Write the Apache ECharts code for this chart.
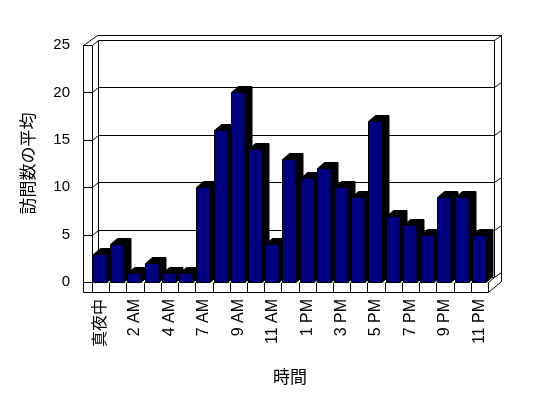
<!DOCTYPE html>
<html>
<head>
<meta charset="utf-8">
<script src="https://cdn.jsdelivr.net/npm/echarts@6/dist/echarts.min.js"></script>
<style>
  html, body { margin: 0; padding: 0; background: #fff; }
  #chart { width: 548px; height: 398px; }
</style>
</head>
<body>
<div id="chart"></div>
<script>
// hours (5 AM has no data in the source)
const hours = ['真夜中', '1 AM', '2 AM', '3 AM', '4 AM', '6 AM', '7 AM', '8 AM', '9 AM', '10 AM', '11 AM', '正午',
  '1 PM', '2 PM', '3 PM', '4 PM', '5 PM', '6 PM', '7 PM', '8 PM', '9 PM', '10 PM', '11 PM'];
const visits = [3, 4, 1, 2, 1, 1, 10, 16, 20, 14, 4, 13, 11, 12, 10, 9, 17, 7, 6, 5, 9, 9, 5];
const yTicks = [0, 5, 10, 15, 20, 25];

const FONT = "'Liberation Sans', 'Noto Sans CJK JP', sans-serif";
const WALL = [6, -5];   // depth of the walls
const BAR = [7, -6];    // depth of a bar
const SIDE = 9;         // side wall thickness
const FLOOR = 10;       // floor thickness

const px = v => Math.round(v) + 0.5;
function line(x1, y1, x2, y2) {
  return {
    type: 'line',
    shape: { x1: px(x1), y1: px(y1), x2: px(x2), y2: px(y2) },
    style: { stroke: '#000', lineWidth: 1 }
  };
}

function renderFrame(params, api) {
  const bw = api.size([1, 0])[0];
  const x0 = api.coord([0, 0])[0] - bw / 2;
  const x1 = api.coord([hours.length - 1, 0])[0] + bw / 2;
  const y = v => api.coord([0, v])[1];
  const top = y(yTicks[yTicks.length - 1]);
  const y0 = y(0);
  const kids = [];
  // back wall + side wall grid
  yTicks.forEach(v => {
    const yy = y(v);
    kids.push(line(x0 + WALL[0], yy + WALL[1], x1 + WALL[0], yy + WALL[1]));
    kids.push(line(x0 - SIDE, yy, x0, yy));
    kids.push(line(x0, yy, x0 + WALL[0], yy + WALL[1]));
    kids.push(line(x1 + WALL[0], yy + WALL[1], x1 + WALL[0] + 7, yy + WALL[1] * 2));
  });
  // verticals
  kids.push(line(x0 - SIDE, top, x0 - SIDE, y0 + FLOOR));
  kids.push(line(x0, top, x0, y0));
  kids.push(line(x0 + WALL[0], top + WALL[1], x0 + WALL[0], y0 + WALL[1]));
  kids.push(line(x1 + WALL[0], top + WALL[1], x1 + WALL[0], y0 + WALL[1]));
  kids.push(line(x1 + WALL[0] + 7, top + WALL[1] * 2, x1 + WALL[0] + 7, y0 - 1));
  // top outer edge
  kids.push(line(x0 - SIDE, top, x0 + 5, top + WALL[1] * 2));
  kids.push(line(x0 + 5, top + WALL[1] * 2, x1 + WALL[0] + 7, top + WALL[1] * 2));
  // floor
  kids.push(line(x0 - SIDE, y0 + FLOOR, x1, y0 + FLOOR));
  kids.push(line(x1, y0, x1 + WALL[0], y0 + WALL[1]));
  kids.push(line(x1, y0 + FLOOR, x1 + WALL[0] + 7, y0 - 1));
  for (let k = 0; k <= hours.length; k++) {
    kids.push(line(x0 + k * bw, y0, x0 + k * bw, y0 + FLOOR));
  }
  return { type: 'group', children: kids };
}

function renderBar(params, api) {
  const i = api.value(0);
  const c = api.coord([i, api.value(1)]);
  const b = api.coord([i, 0]);
  const bw = api.size([1, 0])[0];
  const xl = Math.round(c[0] - bw / 2 + 1) + 0.5;
  const xr = xl + 13.5;
  const yt = Math.round(c[1]) + 0.5;
  const yb = Math.round(b[1]) + 0.5;
  const dx = BAR[0], dy = BAR[1];
  const edge = { stroke: '#000', lineWidth: 1 };
  return {
    type: 'group',
    children: [
      { type: 'polygon', shape: { points: [[xr, yt], [xr + dx, yt + dy], [xr + dx, yb + dy], [xr, yb]] },
        style: Object.assign({ fill: '#000' }, edge) },
      { type: 'polygon', shape: { points: [[xl, yt], [xl + dx, yt + dy], [xr + dx, yt + dy], [xr, yt]] },
        style: Object.assign({ fill: '#000' }, edge) },
      { type: 'rect', shape: { x: xl, y: yt, width: xr - xl, height: yb - yt },
        style: Object.assign({ fill: '#000080' }, edge) }
    ]
  };
}

const chart = echarts.init(document.getElementById('chart'));
chart.setOption({
  animation: false,
  backgroundColor: '#fff',
  grid: { left: 92, right: 60, top: 45, bottom: 116 },
  xAxis: {
    type: 'category',
    data: hours,
    name: '時間',
    nameLocation: 'middle',
    nameGap: 88,
    nameTextStyle: { color: '#000', fontSize: 17, fontFamily: FONT },
    axisLine: { show: false },
    axisTick: { show: false },
    axisLabel: { interval: 1, rotate: 90, margin: 17, color: '#000', fontSize: 16, fontFamily: FONT }
  },
  yAxis: {
    type: 'value',
    min: 0,
    max: 25,
    interval: 5,
    name: '訪問数の平均',
    nameLocation: 'middle',
    nameGap: 54,
    nameTextStyle: { color: '#000', fontSize: 17, fontFamily: FONT },
    axisLine: { show: false },
    axisTick: { show: false },
    splitLine: { show: false },
    axisLabel: { margin: 22, color: '#000', fontSize: 15, fontFamily: FONT }
  },
  series: [
    {
      type: 'custom',
      silent: true,
      z: 1,
      renderItem: renderFrame,
      data: [[0, 0]]
    },
    {
      type: 'custom',
      z: 2,
      renderItem: renderBar,
      encode: { x: 0, y: 1 },
      data: visits.map((v, i) => [i, v])
    }
  ]
});
</script>
</body>
</html>
